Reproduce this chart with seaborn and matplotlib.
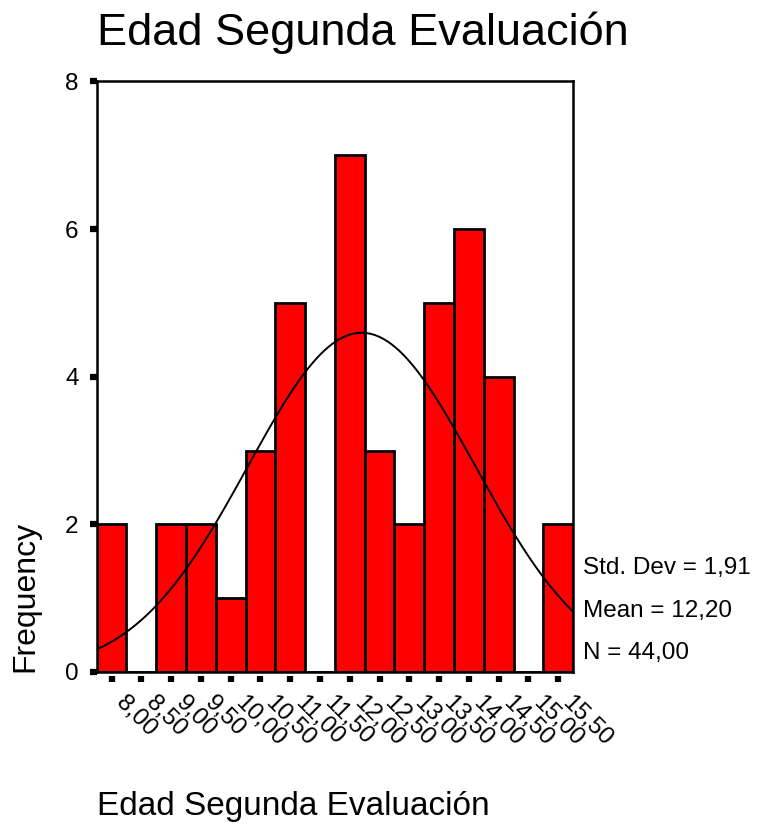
import numpy as np
import pandas as pd
import matplotlib
matplotlib.use("Agg")
import matplotlib.pyplot as plt
import seaborn as sns

sns.set_style("white")
plt.rcParams['font.family'] = ['Liberation Sans', 'DejaVu Sans']
plt.rcParams['text.color'] = 'black'
plt.rcParams['xtick.color'] = 'black'
plt.rcParams['ytick.color'] = 'black'

# --- data ---
bin_centers = [8.0, 8.5, 9.0, 9.5, 10.0, 10.5, 11.0, 11.5,
               12.0, 12.5, 13.0, 13.5, 14.0, 14.5, 15.0, 15.5]
counts = [2, 0, 2, 2, 1, 3, 5, 0, 7, 3, 2, 5, 6, 4, 0, 2]
tick_labels = ['8,00', '8,50', '9,00', '9,50', '10,00', '10,50', '11,00', '11,50',
               '12,00', '12,50', '13,00', '13,50', '14,00', '14,50', '15,00', '15,50']
mean_val = 12.20
std_val = 1.91
n_val = 44
bin_width = 0.5

title = "Edad Segunda Evaluación"
stats_lines = ["Std. Dev = 1,91", "Mean = 12,20", "N = 44,00"]

df = pd.DataFrame({'edad': bin_centers, 'freq': counts})

x_lo = bin_centers[0] - bin_width / 2
x_hi = bin_centers[-1] + bin_width / 2

fig = plt.figure(figsize=(7.59, 8.25), dpi=100)
ax = fig.add_axes([0.1274, 0.1855, 0.6276, 0.7158])

sns.histplot(data=df, x='edad', weights='freq', binwidth=bin_width, binrange=(x_lo, x_hi),
             color='#ff0000', alpha=1, edgecolor='black', linewidth=2.0, ax=ax)

# normal curve fitted on the stats
xs = np.linspace(x_lo, x_hi, 400)
ys = n_val * bin_width * np.exp(-0.5 * ((xs - mean_val) / std_val) ** 2) / (std_val * np.sqrt(2 * np.pi))
sns.lineplot(x=xs, y=ys, color='black', linewidth=1.4, ax=ax)

ax.set_xlim(x_lo, x_hi)
ax.set_ylim(0, 8)
ax.set_yticks([0, 2, 4, 6, 8])
ax.set_xticks([])
ax.set_xlabel('')
ax.set_ylabel('')
ax.tick_params(axis='y', direction='out', length=5, width=4.5, labelsize=17.5, pad=8, left=True)
for s in ax.spines.values():
    s.set_visible(True)
    s.set_color('black')
    s.set_linewidth(1.8)

# x ticks sit a little below the frame
sec = ax.secondary_xaxis(-0.007)
sec.set_xticks(bin_centers, labels=tick_labels, rotation=-45, ha='left')
sec.tick_params(direction='out', length=4, width=4.5, labelsize=17.5, pad=7, color='black')
sec.spines['bottom'].set_visible(False)

fig.text(0.1274, 1 - 45 / 825, title, fontsize=32.5, va='baseline', ha='left')
fig.text(0.1274, 1 - 815 / 825, title, fontsize=24, va='baseline', ha='left')
fig.text(25 / 759, 1 - 672 / 825, 'Frequency', rotation=90, fontsize=23, va='bottom', ha='center')

for i, line in enumerate(stats_lines):
    fig.text(583 / 759, 1 - (568 + 42.5 * i) / 825, line, fontsize=17.5, va='center', ha='left')

fig.savefig('out.png', dpi=100)
